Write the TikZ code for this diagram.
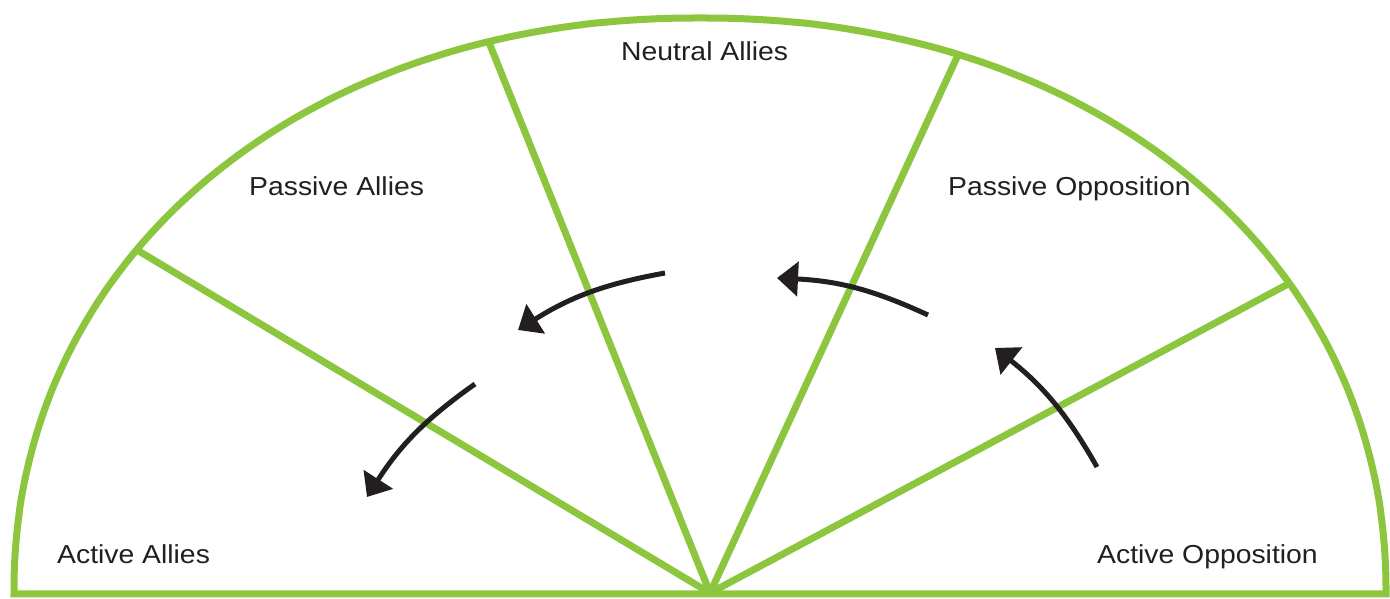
\documentclass[tikz,border=0pt]{standalone}
\usepackage{fontspec}
\setmainfont{Liberation Sans}[FakeStretch=1.09]
\usetikzlibrary{arrows.meta}
\definecolor{lgreen}{HTML}{8CC63F}
\definecolor{ink}{HTML}{231F20}
\begin{document}
\begin{tikzpicture}[x=1pt,y=1pt,
  rim/.style={draw=lgreen,line width=7pt,line join=miter},
  spoke/.style={draw=lgreen,line width=7pt},
  flow/.style={draw=ink,line width=5pt,-{Triangle[length=21pt,width=34pt]},bend right=11},
  lbl/.style={anchor=base west,inner sep=0pt,text=ink,font=\fontsize{26}{30}\selectfont}]
\useasboundingbox (0,0) rectangle (1390,598);
% rim
\draw[rim] plot[variable=\t,domain=0:180,samples=181,smooth]
  ({700+686*sign(cos(\t))*pow(abs(cos(\t))+0.00001,0.9524)},{4+576*pow(abs(sin(\t))+0.00001,0.9524)}) -- cycle;
% spokes
\coordinate (hub) at (710,5);
\coordinate (e1) at (137,348);
\coordinate (e2) at (488,558);
\coordinate (e3) at (958,543);
\coordinate (e4) at (1290,315);
\draw[spoke] (hub) -- (e1);
\draw[spoke] (hub) -- (e2);
\draw[spoke] (hub) -- (e3);
\draw[spoke] (hub) -- (e4);
% labels
\node[lbl] (na) at (621,537) {Neutral Allies};
\node[lbl] (pa) at (249,402) {Passive Allies};
\node[lbl] (po) at (948,402) {Passive Opposition};
\node[lbl] (aa) at (57,35) {Active Allies};
\node[lbl] (ao) at (1097,35) {Active Opposition};
% arrows
\coordinate (a1s) at (1097,131); \coordinate (a1e) at (995,250);
\coordinate (a2s) at (928,283);  \coordinate (a2e) at (777,320);
\coordinate (a3s) at (665,325);  \coordinate (a3e) at (518,268);
\coordinate (a4s) at (475,214);  \coordinate (a4e) at (367,101);
\draw[flow] (a1s) to (a1e);
\draw[flow] (a2s) to (a2e);
\draw[flow] (a3s) to (a3e);
\draw[flow] (a4s) to (a4e);
\end{tikzpicture}
\end{document}
